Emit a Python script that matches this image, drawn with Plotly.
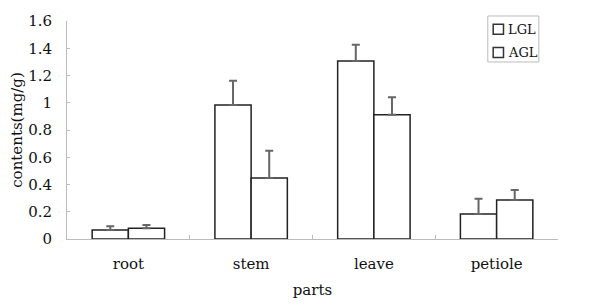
import plotly.graph_objects as go

categories = ["root", "stem", "leave", "petiole"]
lgl = [0.066, 0.983, 1.306, 0.183]
lgl_err = [0.027, 0.179, 0.120, 0.113]
agl = [0.078, 0.448, 0.912, 0.286]
agl_err = [0.024, 0.200, 0.128, 0.074]
y_ticks = [0, 0.2, 0.4, 0.6, 0.8, 1, 1.2, 1.4, 1.6]
y_ticktext = ["0", "0.2", "0.4", "0.6", "0.8", "1", "1.2", "1.4", "1.6"]
series_names = ["LGL", "AGL"]

FONT = "DejaVu Serif"
TXT = "#111111"
FS = 15

fig = go.Figure()
for name, vals, errs in [(series_names[0], lgl, lgl_err), (series_names[1], agl, agl_err)]:
    fig.add_trace(go.Bar(
        name=name, x=categories, y=vals, showlegend=False,
        marker=dict(color="white", line=dict(color="#222222", width=1.5)),
        error_y=dict(type="data", symmetric=False, array=errs,
                     arrayminus=[0] * len(errs), color="#666666",
                     thickness=2, width=4),
    ))

# custom legend (box, swatches, labels) in paper coordinates
fig.add_shape(type="rect", xref="paper", yref="paper",
              x0=0.857, x1=0.961, y0=0.812, y1=1.023,
              line=dict(color="#bbbbbb", width=1), fillcolor="white", layer="above")
for i, (sy0, sy1, ty) in enumerate([(0.939, 0.985, 0.961), (0.832, 0.878, 0.856)]):
    fig.add_shape(type="rect", xref="paper", yref="paper",
                  x0=0.868, x1=0.889, y0=sy0, y1=sy1,
                  line=dict(color="#333333", width=1.5), fillcolor="white", layer="above")
    fig.add_annotation(xref="paper", yref="paper", x=0.895, y=ty,
                       xanchor="left", yanchor="middle", showarrow=False,
                       text=series_names[i],
                       font=dict(family=FONT, size=13, color=TXT))

fig.update_layout(
    width=592, height=298,
    margin=dict(l=59, r=42, t=13, b=67, autoexpand=False),
    plot_bgcolor="white", paper_bgcolor="white",
    barmode="group", bargap=0.41, bargroupgap=0,
    font=dict(family=FONT, size=FS, color=TXT),
    showlegend=False,
    xaxis=dict(showline=True, linecolor="#bbbbbb", linewidth=1,
               ticks="inside", ticklen=4, tickcolor="#bbbbbb",
               tickson="boundaries", showgrid=False,
               ticklabelstandoff=11,
               title=dict(text="parts", standoff=12,
                          font=dict(family=FONT, size=FS, color=TXT)),
               tickfont=dict(family=FONT, size=FS, color=TXT)),
    yaxis=dict(range=[0, 1.6], showline=True, linecolor="#bbbbbb",
               linewidth=1, ticks="inside", ticklen=3, tickcolor="#bbbbbb",
               tickvals=y_ticks, ticktext=y_ticktext, showgrid=False,
               zeroline=False, ticklabelstandoff=11,
               title=dict(text="contents(mg/g)", standoff=7,
                          font=dict(family=FONT, size=FS, color=TXT)),
               tickfont=dict(family=FONT, size=FS, color=TXT)),
)

fig.write_html("out.html")
